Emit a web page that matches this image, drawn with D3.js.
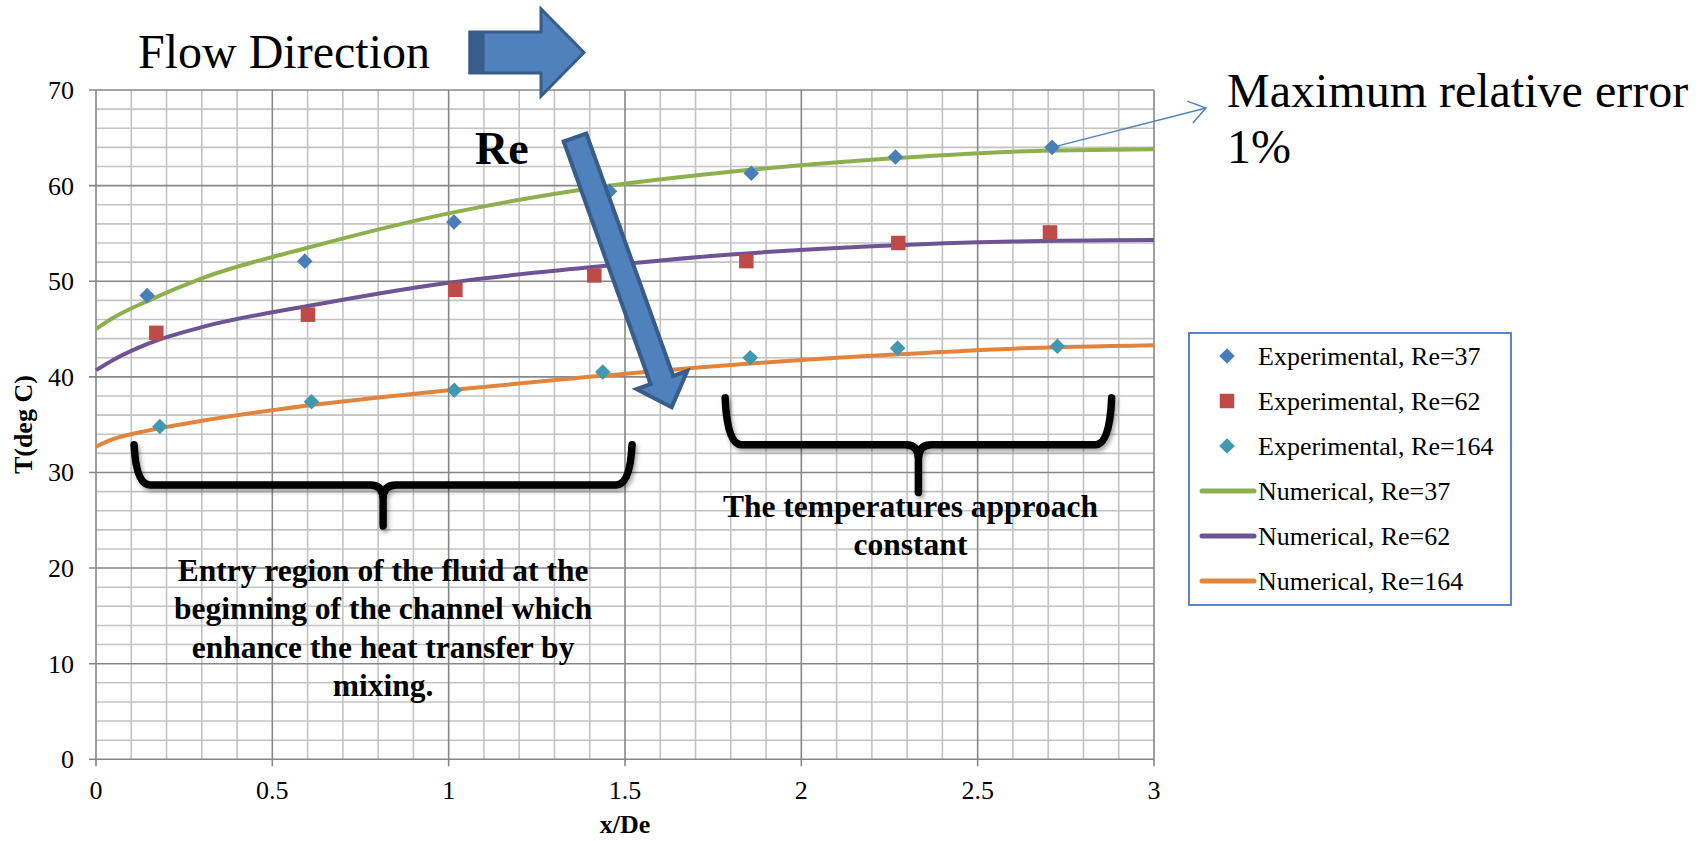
<!DOCTYPE html>
<html>
<head>
<meta charset="utf-8">
<script src="https://cdn.jsdelivr.net/npm/d3@7"></script>
<style>
  body { margin: 0; background: #fff; }
  svg text { font-family: "Liberation Serif", "Times New Roman", serif; }
</style>
</head>
<body>
<div id="chart"></div>
<script>
// Experimental points (x/De, T in deg C)
const expX37 = [0.145, 0.592, 1.015, 1.456, 1.858, 2.267, 2.711];
const expT37 = [48.5, 52.1, 56.2, 59.4, 61.3, 63.0, 64.0];
const expX62 = [0.171, 0.601, 1.019, 1.413, 1.844, 2.275, 2.705];
const expT62 = [44.6, 46.5, 49.1, 50.6, 52.1, 54.0, 55.1];
const expX164 = [0.181, 0.611, 1.016, 1.437, 1.855, 2.273, 2.726];
const expT164 = [34.8, 37.4, 38.6, 40.5, 42.0, 43.0, 43.2];

// Numerical curves
const numX = [0, 0.05, 0.15, 0.3, 0.6, 1.0, 1.4, 1.8, 2.2, 2.6, 3.0];
const numT37 = [45.0, 46.2, 48.0, 50.3, 53.5, 57.1, 59.7, 61.45, 62.7, 63.55, 63.8];
const numT62 = [40.7, 41.8, 43.5, 45.2, 47.4, 49.85, 51.45, 52.8, 53.65, 54.15, 54.3];
const numT164 = [32.7, 33.5, 34.4, 35.4, 37.0, 38.6, 40.0, 41.25, 42.2, 42.95, 43.3];

// Axis ticks
const xTicks = [0, 0.5, 1, 1.5, 2, 2.5, 3];
const yTicks = [0, 10, 20, 30, 40, 50, 60, 70];

// Legend entries
const legendLabels = ["Experimental, Re=37", "Experimental, Re=62", "Experimental, Re=164",
    "Numerical, Re=37", "Numerical, Re=62", "Numerical, Re=164"];

// Graph dimension settings
const W = 1703, H = 841;
const plot = { left: 96, right: 1154, top: 90, bottom: 759.3 };
const serif = "'Liberation Serif', 'Times New Roman', serif";

const colors = {
    blue: "#4A7EBB", red: "#BE4B48", aqua: "#4198AF",
    green: "#8DB04E", purple: "#6E5494", orange: "#E3843C",
    minor: "#c3c3c3", major: "#878787", shape: "#4F81BD", shapeLine: "#385D8A"
};

const svg = d3.select("#chart").append("svg")
    .attr("width", W)
    .attr("height", H)
    .attr("font-family", serif);

svg.append("rect").attr("width", W).attr("height", H).attr("fill", "#fff");

const defs = svg.append("defs");
const shadow = defs.append("filter").attr("id", "shadow")
    .attr("x", "-10%").attr("y", "-20%").attr("width", "130%").attr("height", "160%");
shadow.append("feDropShadow")
    .attr("dx", 2).attr("dy", 3).attr("stdDeviation", 2)
    .attr("flood-color", "#000").attr("flood-opacity", 0.35);

const x = d3.scaleLinear().domain([0, 3]).range([plot.left, plot.right]);
const y = d3.scaleLinear().domain([0, 70]).range([plot.bottom, plot.top]);

// Grid: minor lines first, major lines on top
const grid = svg.append("g");
const xMinor = d3.range(0, 31).filter(i => i % 5 !== 0).map(i => i / 10);
const yMinor = d3.range(0, 71, 2).filter(v => v % 10 !== 0);

grid.selectAll(".vminor").data(xMinor).join("line")
    .attr("class", "vminor")
    .attr("x1", d => x(d)).attr("x2", d => x(d))
    .attr("y1", plot.top).attr("y2", plot.bottom)
    .attr("stroke", colors.minor).attr("stroke-width", 1.6);
grid.selectAll(".hminor").data(yMinor).join("line")
    .attr("class", "hminor")
    .attr("y1", d => y(d)).attr("y2", d => y(d))
    .attr("x1", plot.left).attr("x2", plot.right)
    .attr("stroke", colors.minor).attr("stroke-width", 1.6);
grid.selectAll(".vmajor").data(xTicks).join("line")
    .attr("class", "vmajor")
    .attr("x1", d => x(d)).attr("x2", d => x(d))
    .attr("y1", plot.top).attr("y2", plot.bottom + 7)
    .attr("stroke", colors.major).attr("stroke-width", 1.6);
grid.selectAll(".hmajor").data(yTicks).join("line")
    .attr("class", "hmajor")
    .attr("y1", d => y(d)).attr("y2", d => y(d))
    .attr("x1", plot.left - 7).attr("x2", plot.right)
    .attr("stroke", colors.major).attr("stroke-width", 1.6);

// Tick labels
svg.append("g").selectAll("text").data(yTicks).join("text")
    .attr("x", plot.left - 22).attr("y", d => y(d) + 9)
    .attr("text-anchor", "end").attr("font-size", 26)
    .text(d => d);
svg.append("g").selectAll("text").data(xTicks).join("text")
    .attr("x", d => x(d)).attr("y", plot.bottom + 40)
    .attr("text-anchor", "middle").attr("font-size", 26)
    .text(d => d);

// Axis titles
svg.append("text")
    .attr("x", (plot.left + plot.right) / 2).attr("y", 833)
    .attr("text-anchor", "middle").attr("font-size", 26).attr("font-weight", "bold")
    .text("x/De");
svg.append("text")
    .attr("transform", `translate(32, ${(plot.top + plot.bottom) / 2}) rotate(-90)`)
    .attr("text-anchor", "middle").attr("font-size", 26).attr("font-weight", "bold")
    .text("T(deg C)");

// Numerical lines
const line = d3.line()
    .x(d => x(d[0])).y(d => y(d[1]))
    .curve(d3.curveMonotoneX);
const numSeries = [
    { t: numT37, color: colors.green },
    { t: numT62, color: colors.purple },
    { t: numT164, color: colors.orange }
];
svg.append("g").selectAll("path").data(numSeries).join("path")
    .attr("d", s => line(numX.map((v, i) => [v, s.t[i]])))
    .attr("fill", "none").attr("stroke", s => s.color).attr("stroke-width", 4);

// Experimental markers
const diamond = d3.symbol().type(d3.symbolDiamond2).size(155);
const square = d3.symbol().type(d3.symbolSquare).size(210);
const expSeries = [
    { xs: expX37, ts: expT37, color: colors.blue, sym: diamond },
    { xs: expX62, ts: expT62, color: colors.red, sym: square },
    { xs: expX164, ts: expT164, color: colors.aqua, sym: diamond }
];
expSeries.forEach(function (s) {
    svg.append("g").selectAll("path")
        .data(s.xs.map((v, i) => [v, s.ts[i]]))
        .join("path")
        .attr("transform", d => `translate(${x(d[0])},${y(d[1])})`)
        .attr("d", s.sym())
        .attr("fill", s.color);
});

// Legend
const legend = svg.append("g");
legend.append("rect")
    .attr("x", 1189).attr("y", 333).attr("width", 322).attr("height", 272)
    .attr("fill", "#fff").attr("stroke", "#5B87C6").attr("stroke-width", 2);
const legendRows = legend.selectAll("g").data(legendLabels).join("g")
    .attr("transform", (d, i) => `translate(0, ${356 + i * 45})`);
legendRows.each(function (d, i) {
    const g = d3.select(this);
    if (i < 3) {
        g.append("path")
            .attr("transform", "translate(1227, 0)")
            .attr("d", expSeries[i].sym())
            .attr("fill", expSeries[i].color);
    } else {
        g.append("line")
            .attr("x1", 1202).attr("x2", 1254)
            .attr("stroke", numSeries[i - 3].color)
            .attr("stroke-width", 5).attr("stroke-linecap", "round");
    }
    g.append("text")
        .attr("x", 1258).attr("y", 9)
        .attr("font-size", 26)
        .text(d);
});

// Flow direction label and block arrow
svg.append("text")
    .attr("x", 138).attr("y", 68).attr("font-size", 48)
    .attr("font-family", serif)
    .text("Flow Direction");
svg.append("polygon")
    .attr("points", "470,32 541,32 541,9 584,52.5 541,96 541,73 470,73")
    .attr("fill", colors.shape).attr("stroke", colors.shapeLine).attr("stroke-width", 3);
svg.append("rect")
    .attr("x", 468.5).attr("y", 31).attr("width", 16).attr("height", 43)
    .attr("fill", colors.shapeLine);

// "Re" label and the diagonal arrow showing increasing Re
svg.append("text")
    .attr("x", 475).attr("y", 164)
    .attr("font-size", 46).attr("font-weight", "bold")
    .text("Re");

const aStart = [575, 137.5], aTip = [671.7, 407.3];
const aLen = Math.hypot(aTip[0] - aStart[0], aTip[1] - aStart[1]);
const aAng = Math.atan2(aTip[1] - aStart[1], aTip[0] - aStart[0]) * 180 / Math.PI;
const hw = 12, hh = 27, hl = 29;
const arrowPts = [[0, -hw], [aLen - hl, -hw], [aLen - hl, -hh], [aLen, 0],
    [aLen - hl, hh], [aLen - hl, hw], [0, hw]];

// Braces (drawn in data coordinates)
function brace(x0, x1, yTop, yBar, yTip) {
    const xm = (x0 + x1) / 2;
    const p = d3.path();
    p.moveTo(x(x0), y(yTop));
    p.quadraticCurveTo(x(x0) + 2, y(yBar), x(x0) + 16, y(yBar));
    p.lineTo(x(xm) - 13, y(yBar));
    p.quadraticCurveTo(x(xm), y(yBar), x(xm), y(yBar) + 14);
    p.lineTo(x(xm), y(yTip));
    p.moveTo(x(x1), y(yTop));
    p.quadraticCurveTo(x(x1) - 2, y(yBar), x(x1) - 16, y(yBar));
    p.lineTo(x(xm) + 13, y(yBar));
    p.quadraticCurveTo(x(xm), y(yBar), x(xm), y(yBar) + 14);
    return p.toString();
}
const braces = svg.append("g").attr("filter", "url(#shadow)");
braces.append("path")
    .attr("d", brace(0.108, 1.52, 32.9, 28.7, 24.4))
    .attr("fill", "none").attr("stroke", "#000").attr("stroke-width", 7.5)
    .attr("stroke-linecap", "round").attr("stroke-linejoin", "round");
braces.append("path")
    .attr("d", brace(1.784, 2.88, 37.8, 32.9, 27.9))
    .attr("fill", "none").attr("stroke", "#000").attr("stroke-width", 7.5)
    .attr("stroke-linecap", "round").attr("stroke-linejoin", "round");

svg.append("polygon")
    .attr("transform", `translate(${aStart[0]},${aStart[1]}) rotate(${aAng})`)
    .attr("points", arrowPts.map(p => p.join(",")).join(" "))
    .attr("fill", colors.shape).attr("stroke", colors.shapeLine)
    .attr("stroke-width", 4).attr("stroke-linejoin", "miter");

// Brace notes
const note1 = ["Entry region of the fluid at the", "beginning of the channel which",
    "enhance the heat transfer by", "mixing."];
svg.append("g").selectAll("text").data(note1).join("text")
    .attr("x", x(0.814)).attr("y", (d, i) => 581 + i * 38.4)
    .attr("text-anchor", "middle").attr("font-size", 31.5).attr("font-weight", "bold")
    .text(d => d);
const note2 = ["The temperatures approach", "constant"];
svg.append("g").selectAll("text").data(note2).join("text")
    .attr("x", 910.5).attr("y", (d, i) => 517 + i * 38)
    .attr("text-anchor", "middle").attr("font-size", 31.5).attr("font-weight", "bold")
    .text(d => d);

// Maximum relative error callout from the last Re=37 point
const cx0 = x(expX37[6]), cy0 = y(expT37[6]);
const cTip = [1206, 108];
svg.append("line")
    .attr("x1", cx0).attr("y1", cy0).attr("x2", cTip[0]).attr("y2", cTip[1])
    .attr("stroke", colors.shape).attr("stroke-width", 1.5);
const cAng = Math.atan2(cTip[1] - cy0, cTip[0] - cx0);
const wing = 20, spread = 0.6;
svg.append("polyline")
    .attr("points", [
        [cTip[0] - wing * Math.cos(cAng - spread), cTip[1] - wing * Math.sin(cAng - spread)],
        cTip,
        [cTip[0] - wing * Math.cos(cAng + spread), cTip[1] - wing * Math.sin(cAng + spread)]
    ].map(p => p.join(",")).join(" "))
    .attr("fill", "none").attr("stroke", colors.shape).attr("stroke-width", 1.5);
svg.append("text")
    .attr("x", 1227).attr("y", 107).attr("font-size", 48)
    .attr("font-family", serif)
    .text("Maximum relative error");
svg.append("text")
    .attr("x", 1227).attr("y", 163).attr("font-size", 48)
    .attr("font-family", serif)
    .text("1%");
</script>
</body>
</html>
